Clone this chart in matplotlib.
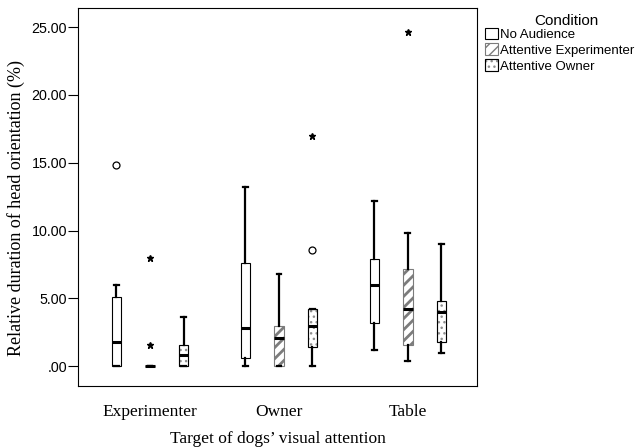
import matplotlib.pyplot as plt
import numpy as np
from matplotlib.patches import Patch, PathPatch

# data
TARGETS = ["Experimenter", "Owner", "Table"]
CONDITIONS = ["No Audience", "Attentive Experimenter", "Attentive Owner"]

# one list per condition, one value per target
whislo = [[0.0, 0.0, 1.2], [0.0, 0.0, 0.4], [0.0, 0.0, 1.0]]
q1 = [[0.0, 0.6, 3.2], [0.0, 0.0, 1.6], [0.0, 1.4, 1.8]]
med = [[1.8, 2.8, 6.0], [0.0, 2.1, 4.2], [0.8, 3.0, 4.0]]
q3 = [[5.1, 7.6, 7.9], [0.0, 3.0, 7.2], [1.6, 4.2, 4.8]]
whishi = [[6.0, 13.2, 12.2], [0.0, 6.8, 9.8], [3.6, 4.2, 9.0]]
# outliers (circles) and extremes (stars)
circles = [[[14.8], [], []], [[], [], []], [[], [8.6], []]]
stars = [[[], [], []], [[8.0, 1.6], [], [24.6]], [[], [17.0], []]]

HATCHES = [None, "///", "..."]
HATCH_COL = [None, "#7c7c7c", "#8e8e8e"]
HATCH_LW = [1.0, 2.0, 1.0]
OFFSETS = [-0.26, 0.0, 0.26]

fig = plt.figure(figsize=(6.4, 4.47), dpi=100)
ax = fig.add_axes([0.122, 0.136, 0.623, 0.846])

for c in range(len(CONDITIONS)):
    stats = []
    for t in range(len(TARGETS)):
        stats.append({"whislo": whislo[c][t], "q1": q1[c][t], "med": med[c][t],
                      "q3": q3[c][t], "whishi": whishi[c][t], "fliers": []})
    pos = np.arange(len(TARGETS)) + OFFSETS[c]
    with plt.rc_context({"hatch.linewidth": HATCH_LW[c]}):
        res = ax.bxp(stats, positions=pos, widths=0.074, patch_artist=True,
                     showfliers=False,
                     boxprops=dict(facecolor="white", edgecolor="black", linewidth=0.8),
                     medianprops=dict(color="black", linewidth=2.2, solid_capstyle="butt"),
                     whiskerprops=dict(color="black", linewidth=1.6),
                     capprops=dict(color="black", linewidth=1.6))
    for b in res["boxes"]:
        if HATCHES[c]:
            # hatch takes the edge colour, so draw the black outline on top
            b.set_edgecolor(HATCH_COL[c])
            b.set_hatch(HATCHES[c])
            if c == 2:
                ax.add_patch(PathPatch(b.get_path(), facecolor="none",
                                       edgecolor="black", linewidth=0.8, zorder=b.get_zorder()))
    for t in range(len(TARGETS)):
        x = t + OFFSETS[c]
        if circles[c][t]:
            ax.plot([x] * len(circles[c][t]), circles[c][t], "o", mfc="white",
                    mec="black", ms=5, mew=0.9)
        if stars[c][t]:
            ax.plot([x] * len(stars[c][t]), stars[c][t], "*", color="black", ms=5)

ax.set_xlim(-0.558, 2.535)
ax.set_ylim(-1.47, 26.4)
ax.set_yticks([0, 5, 10, 15, 20, 25])
ax.set_yticklabels([".00", "5.00", "10.00", "15.00", "20.00", "25.00"],
                   family="Liberation Sans", fontsize=10.3)
ax.set_xticks(range(len(TARGETS)))
ax.set_xticklabels(TARGETS, family="Liberation Serif", fontsize=12.5)
ax.tick_params(axis="x", length=0, pad=13)
ax.tick_params(axis="y", length=7, width=0.8, direction="out", pad=1)
for s in ax.spines.values():
    s.set_linewidth(0.8)

ax.set_xlabel("Target of dogs\u2019 visual attention", family="Liberation Serif",
              fontsize=12.5, labelpad=8)
ax.set_ylabel("Relative duration of head orientation (%)", family="Liberation Serif",
              fontsize=13)
ax.yaxis.set_label_coords(-0.133, 0.47)

# legend outside on the right
handles = []
for c in range(len(CONDITIONS)):
    if HATCHES[c] is None:
        handles.append(Patch(facecolor="white", edgecolor="black", linewidth=0.8))
    else:
        with plt.rc_context({"hatch.linewidth": HATCH_LW[c]}):
            hp = Patch(facecolor="white", edgecolor=HATCH_COL[c], linewidth=0.8,
                       hatch=HATCHES[c])
        if c == 2:
            handles.append((hp, Patch(facecolor="none", edgecolor="black", linewidth=0.8)))
        else:
            handles.append(hp)
fig.text(566 / 640, 1 - 21 / 447, "Condition", family="Liberation Sans",
         fontsize=11, ha="center", va="center")
leg = fig.legend(handles, CONDITIONS, loc="upper left",
                 bbox_to_anchor=(0.7497, 0.950), frameon=False,
                 prop={"family": "Liberation Sans", "size": 9.5},
                 handlelength=0.95, handleheight=0.95, handletextpad=0.2,
                 labelspacing=0.2, borderaxespad=0, borderpad=0.4)

fig.savefig("out.png", dpi=100)
